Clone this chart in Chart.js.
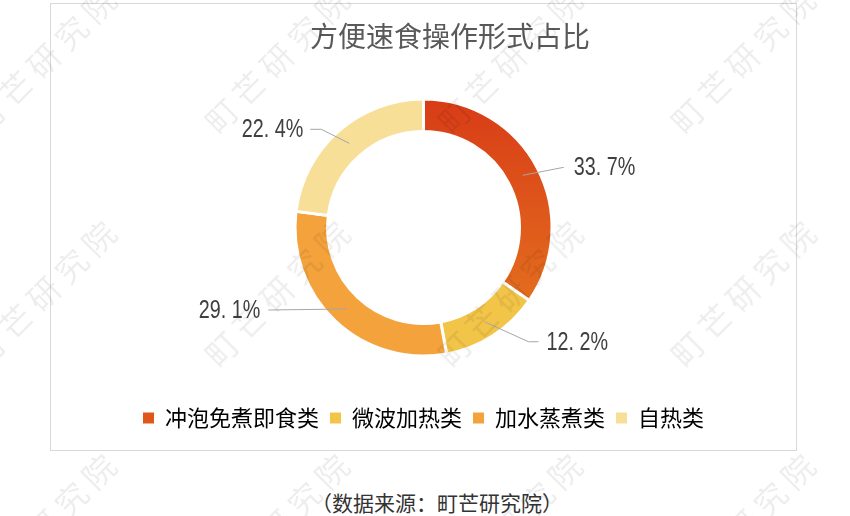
<!doctype html>
<html>
  <head>
    <meta charset="utf-8" />
    <title>方便速食操作形式占比</title>
    <script src="https://cdn.jsdelivr.net/npm/chart.js"></script>
    <style>
      html, body { margin: 0; padding: 0; background: #fff; }
      body { width: 850px; height: 516px; position: relative; overflow: hidden; font-family: "Noto Sans CJK SC", sans-serif; }
      #box { position: absolute; left: 50px; top: 3px; width: 747px; height: 448px; border: 1px solid #d9d9d9; box-sizing: border-box; }
      #box canvas { display: block; }
      #title { position: absolute; left: 250px; width: 400px; top: 15px; line-height: 40px; text-align: center; font-size: 28px; color: #595959; }
      #source { position: absolute; left: 237px; width: 400px; top: 487px; line-height: 30px; text-align: center; font-size: 21px; color: #333; }
      .wm { position: absolute; font-size: 32px; letter-spacing: 7px; color: rgba(0, 0, 0, 0.07); white-space: nowrap; transform: translate(-50%, -50%) rotate(-45deg); pointer-events: none; }
    </style>
  </head>
  <body>
    <div id="box"><canvas id="chart" width="745" height="446"></canvas></div>
    <div id="title">方便速食操作形式占比</div>
    <div id="source">（数据来源：町芒研究院）</div>
    <script>
      const categories = ["冲泡免煮即食类", "微波加热类", "加水蒸煮类", "自热类"];
      const shares = [33.7, 12.2, 29.1, 22.4];
      const sliceColors = ["#e0561a", "#f2c447", "#f4a23b", "#f7df98"];

      // labels look like "33. 7%" in the source picture
      const labelTexts = shares.map((v) => v.toFixed(1).replace(".", ". ") + "%");

      // leader line bends, relative to each slice's mid point
      const leaderLayout = [
        { dx: 41, dy: -8, run: 0, gap: 10 },
        { dx: 44, dy: 20, run: 10, gap: 8 },
        { dx: -78, dy: 1, run: 0, gap: 8 },
        { dx: -28, dy: -14, run: -11, gap: 7 },
      ];

      // watermark
      for (let i = 0; i < 4; i++) {
        for (let j = 0; j < 3; j++) {
          const d = document.createElement("div");
          d.className = "wm";
          d.textContent = "町芒研究院";
          d.style.left = 45 + 233 * i + "px";
          d.style.top = 57 + 233 * j + "px";
          document.body.appendChild(d);
        }
      }

      const leaders = {
        id: "leaders",
        afterDatasetsDraw(chart) {
          const ctx = chart.ctx;
          chart.getDatasetMeta(0).data.forEach((arc, i) => {
            const p = arc.getCenterPoint();
            const lay = leaderLayout[i];
            const ex = p.x + lay.dx;
            const ey = p.y + lay.dy;
            const fx = ex + lay.run;
            const toLeft = lay.dx < 0;
            ctx.save();
            ctx.strokeStyle = "#a6a6a6";
            ctx.lineWidth = 1;
            ctx.beginPath();
            ctx.moveTo(p.x, p.y);
            ctx.lineTo(ex, ey);
            if (lay.run) ctx.lineTo(fx, ey);
            ctx.stroke();
            ctx.translate(fx + (toLeft ? -lay.gap : lay.gap), ey + 1);
            ctx.scale(0.79, 1);
            ctx.font = '25px "Liberation Sans", Arial, sans-serif';
            ctx.fillStyle = "#404040";
            ctx.textBaseline = "middle";
            ctx.textAlign = toLeft ? "right" : "left";
            ctx.fillText(labelTexts[i], 0, 0);
            ctx.restore();
          });
        },
      };

      function sliceFill(c) {
        const area = c.chart.chartArea;
        if (c.dataIndex !== 0 || !area) return sliceColors[c.dataIndex];
        const cy = (area.top + area.bottom) / 2;
        const g = c.chart.ctx.createLinearGradient(0, cy - 128, 0, cy + 70);
        g.addColorStop(0, "#d83c17");
        g.addColorStop(1, "#e36c1e");
        return g;
      }

      new Chart(document.getElementById("chart"), {
        type: "doughnut",
        data: {
          labels: categories,
          datasets: [
            {
              data: shares,
              backgroundColor: sliceFill,
              borderColor: "#fff",
              borderWidth: 3,
            },
          ],
        },
        options: {
          responsive: false,
          animation: false,
          radius: 128.5,
          cutout: "74.7%",
          layout: { padding: { top: 55, bottom: 11 } },
          plugins: {
            tooltip: { enabled: false },
            legend: {
              position: "bottom",
              labels: {
                boxWidth: 11,
                boxHeight: 11,
                padding: 11,
                color: "#595959",
                font: { size: 22, family: '"Noto Sans CJK SC"' },
                generateLabels: () =>
                  categories.map((name, i) => ({
                    text: name,
                    fillStyle: sliceColors[i],
                    strokeStyle: sliceColors[i],
                    lineWidth: 0,
                    hidden: false,
                    index: i,
                  })),
              },
            },
          },
        },
        plugins: [leaders],
      });
    </script>
  </body>
</html>
